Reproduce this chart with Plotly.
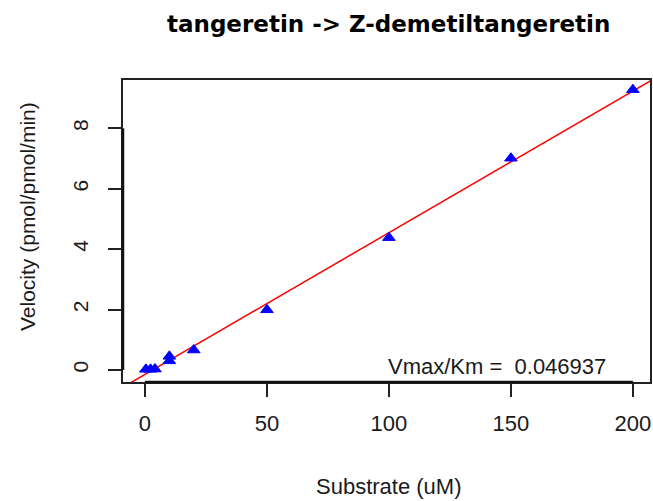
import plotly.graph_objects as go

# ---- data ----
substrate = [0.4, 2.3, 4.1, 10, 10, 20, 50, 100, 150, 200]
velocity = [0.02, 0.02, 0.03, 0.30, 0.45, 0.66, 1.99, 4.38, 7.01, 9.28]

fit_slope = 0.046937        # Vmax/Km
fit_intercept = -0.15
fit_x = [-10, 215]
fit_y = [fit_slope * v + fit_intercept for v in fit_x]

x_ticks = [0, 50, 100, 150, 200]
y_ticks = [0, 2, 4, 6, 8]

title_text = "tangeretin -> Z-demetiltangeretin"
x_title = "Substrate (uM)"
y_title = "Velocity (pmol/pmol/min)"
note_text = "Vmax/Km =  0.046937"

# ---- layout geometry (pixels) ----
W, H = 653, 501
L, R, T, B = 123, 3, 80, 119
pw, ph = W - L - R, H - T - B

def px_x(p):
    return (p - L) / pw

def px_y(p):
    return (H - B - p) / ph

font_ticks = "Liberation Sans, Arial, sans-serif"

fig = go.Figure()

fig.add_trace(go.Scatter(
    x=fit_x, y=fit_y, mode="lines",
    line=dict(color="#ff0000", width=1.5),
    hoverinfo="skip", showlegend=False,
))

fig.add_trace(go.Scatter(
    x=substrate, y=velocity, mode="markers",
    marker=dict(symbol="triangle-up", size=11, color="#0000ff",
                line=dict(color="#0000ff", width=1)),
    showlegend=False, cliponaxis=False,
))

axis_common = dict(
    showgrid=False, zeroline=False,
    showline=True, mirror=True, linecolor="#222222", linewidth=1.5,
    ticks="outside", ticklen=13, tickwidth=1.5, tickcolor="#222222",
)

fig.update_xaxes(
    range=[-9, 207], tickmode="array", tickvals=x_ticks,
    ticktext=[str(v) for v in x_ticks],
    tickfont=dict(family=font_ticks, size=22, color="#1a1a1a"),
    ticklabelstandoff=8,
    **axis_common,
)
fig.update_yaxes(
    range=[-0.4, 9.6], tickmode="array", tickvals=y_ticks,
    ticktext=[str(v) for v in y_ticks], tickangle=-90,
    tickfont=dict(family=font_ticks, size=21, color="#1a1a1a"),
    ticklabelstandoff=12,
    **axis_common,
)

# thicker axis segments (R axis lines from first to last tick)
fig.add_shape(type="line", xref="x", yref="paper", x0=x_ticks[0], x1=x_ticks[-1],
              y0=0, y1=0, line=dict(color="#111111", width=2.5))
fig.add_shape(type="line", xref="paper", yref="y", x0=0, x1=0,
              y0=y_ticks[0], y1=y_ticks[-1], line=dict(color="#111111", width=2.5))

fig.add_annotation(
    text=title_text, xref="paper", yref="paper",
    x=px_x(388), y=px_y(24), xanchor="center", yanchor="middle",
    showarrow=False,
    font=dict(family="DejaVu Sans, Verdana, sans-serif", size=23, color="#000000",
              weight="bold"),
)
fig.add_annotation(
    text=x_title, xref="paper", yref="paper",
    x=px_x(389), y=px_y(486), xanchor="center", yanchor="middle",
    showarrow=False,
    font=dict(family=font_ticks, size=22, color="#1a1a1a"),
)
fig.add_annotation(
    text=y_title, xref="paper", yref="paper", textangle=-90,
    x=px_x(27), y=px_y(217), xanchor="center", yanchor="middle",
    showarrow=False,
    font=dict(family=font_ticks, size=21, color="#1a1a1a"),
)
fig.add_annotation(
    text=note_text, xref="paper", yref="paper",
    x=px_x(608), y=px_y(366), xanchor="right", yanchor="middle",
    showarrow=False,
    font=dict(family=font_ticks, size=22, color="#1a1a1a"),
)

fig.update_layout(
    width=W, height=H,
    margin=dict(l=L, r=R, t=T, b=B, autoexpand=False),
    plot_bgcolor="white", paper_bgcolor="white",
)

fig.write_html("out.html",
               config={"displayModeBar": False},
               post_script="document.body.style.margin='0px';"
                           "document.body.style.overflow='hidden';")
